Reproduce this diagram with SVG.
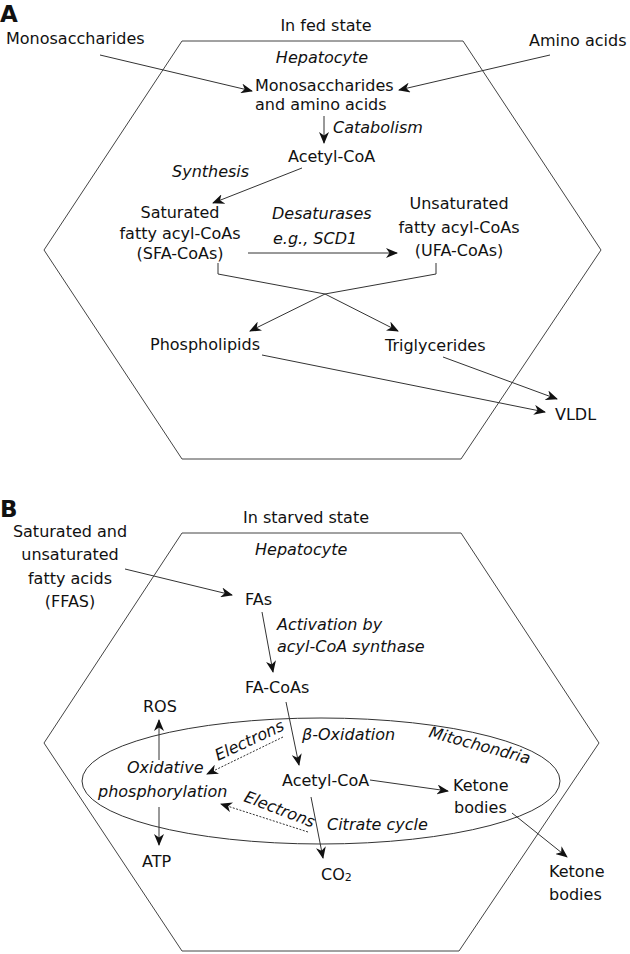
<svg xmlns="http://www.w3.org/2000/svg" width="630" height="954" viewBox="0 0 630 954">
<style>
text{font-family:"DejaVu Sans",Verdana,sans-serif;font-size:16px;fill:#111}
.i{font-style:italic}
.b{font-weight:bold;font-size:23px}
.m{text-anchor:middle}
.hex{fill:none;stroke:#444;stroke-width:1}
.c{fill:none;stroke:#333;stroke-width:1}
.a{marker-end:url(#ah)}
.d{stroke-dasharray:2 1.5}
</style>
<defs>
<marker id="ah" viewBox="0 0 12 10" refX="11" refY="5" markerWidth="12" markerHeight="10" markerUnits="userSpaceOnUse" orient="auto">
<path d="M0,0 L12,5 L0,10 L3.5,5 z" fill="#111"/>
</marker>
</defs>
<rect width="630" height="954" fill="#fff"/>

<g id="panelA">
<text class="b" x="0" y="22">A</text>
<polygon id="hexA" class="hex" points="182,41 463,41 601,250 461,459 182,459 44,250"/>
<text class="m" x="326" y="31">In fed state</text>
<text class="i m" x="322" y="63">Hepatocyte</text>
</g>

<g id="nodes">
<g id="monoOut"><text x="6" y="44">Monosaccharides</text></g>
<g id="aminoOut"><text x="529" y="46">Amino acids</text></g>
<g id="monoIn"><text x="255" y="91">Monosaccharides</text><text x="255" y="110">and amino acids</text></g>
<g id="catab"><text class="i" x="333" y="133">Catabolism</text></g>
<g id="acetylA"><text x="288" y="162">Acetyl-CoA</text></g>
<g id="synth"><text class="i" x="172" y="177">Synthesis</text></g>
<g id="sfa"><text class="m" x="180" y="218">Saturated</text><text class="m" x="180" y="239">fatty acyl-CoAs</text><text class="m" x="180" y="259">(SFA-CoAs)</text></g>
<g id="desat"><text class="i" x="272" y="219">Desaturases</text><text class="i" x="273" y="244">e.g., SCD1</text></g>
<g id="ufa"><text class="m" x="459" y="209">Unsaturated</text><text class="m" x="459" y="233">fatty acyl-CoAs</text><text class="m" x="459" y="256">(UFA-CoAs)</text></g>
<g id="phospho"><text x="150" y="350">Phospholipids</text></g>
<g id="trig"><text x="385" y="351">Triglycerides</text></g>
<g id="vldl"><text x="555" y="420">VLDL</text></g>
</g>

<g id="panelB">
<text class="b" x="0" y="517">B</text>
<polygon id="hexB" class="hex" points="182,533 461,533 599,743 459,951 182,951 44,743"/>
<ellipse id="mito" class="c" cx="321" cy="781" rx="239" ry="63"/>
<text class="m" x="306" y="523">In starved state</text>
<text class="i" x="255" y="555">Hepatocyte</text>
</g>

<g id="nodesB">
<g id="ffa"><text class="m" x="70" y="537">Saturated and</text><text class="m" x="70" y="560">unsaturated</text><text class="m" x="70" y="584">fatty acids</text><text class="m" x="70" y="607">(FFAS)</text></g>
<g id="fas"><text x="245" y="605">FAs</text></g>
<g id="activ"><text class="i" x="277" y="630">Activation by</text><text class="i" x="277" y="652">acyl-CoA synthase</text></g>
<g id="facoas"><text x="245" y="693">FA-CoAs</text></g>
<g id="ros"><text x="143" y="712">ROS</text></g>
<g id="oxphos"><text class="i" x="127" y="773">Oxidative</text><text class="i" x="98" y="797">phosphorylation</text></g>
<g id="atp"><text x="142" y="867">ATP</text></g>
<g id="e1"><text class="i" transform="translate(218,761) rotate(-25)">Electrons</text></g>
<g id="e2"><text class="i" transform="translate(243,801) rotate(21)">Electrons</text></g>
<g id="betaox"><text class="i" x="302" y="740">β-Oxidation</text></g>
<g id="mitoLabel"><text class="i" transform="translate(428,737) rotate(15)">Mitochondria</text></g>
<g id="acetylB"><text x="282" y="786">Acetyl-CoA</text></g>
<g id="ketIn"><text x="453" y="791">Ketone</text><text x="454" y="813">bodies</text></g>
<g id="ketOut"><text x="549" y="877">Ketone</text><text x="549" y="900">bodies</text></g>
<g id="co2"><text x="321" y="880">CO<tspan font-size="11" dy="1">2</tspan></text></g>
<g id="citrate"><text class="i" x="327" y="830">Citrate cycle</text></g>
</g>

<g id="connectors">
<line class="c a" x1="100" y1="55" x2="252" y2="91"/>
<line class="c a" x1="550" y1="55" x2="399" y2="90"/>
<line class="c a" x1="324" y1="116" x2="324" y2="143"/>
<line class="c a" x1="302" y1="168" x2="213" y2="203"/>
<line class="c a" x1="248" y1="253" x2="397" y2="253"/>
<polyline class="c a" points="218,263 218,274 325,294 398,331"/>
<polyline class="c a" points="436,263 436,274 325,294 250,331"/>
<line class="c a" x1="262" y1="355" x2="545" y2="412"/>
<line class="c a" x1="443" y1="357" x2="557" y2="399"/>

<line class="c a" x1="125" y1="569" x2="232" y2="595"/>
<line class="c a" x1="262" y1="612" x2="273" y2="672"/>
<line class="c a" x1="286" y1="702" x2="299" y2="765"/>
<line class="c a" x1="159" y1="760" x2="159" y2="720"/>
<line class="c a" x1="159" y1="807" x2="159" y2="845"/>
<line class="c a d" x1="283" y1="737" x2="207" y2="774"/>
<line class="c a d" x1="308" y1="832" x2="221" y2="804"/>
<line class="c a" x1="370" y1="780" x2="448" y2="791"/>
<line class="c a" x1="512" y1="813" x2="567" y2="857"/>
<line class="c a" x1="311" y1="797" x2="323" y2="858"/>
</g>
</svg>
